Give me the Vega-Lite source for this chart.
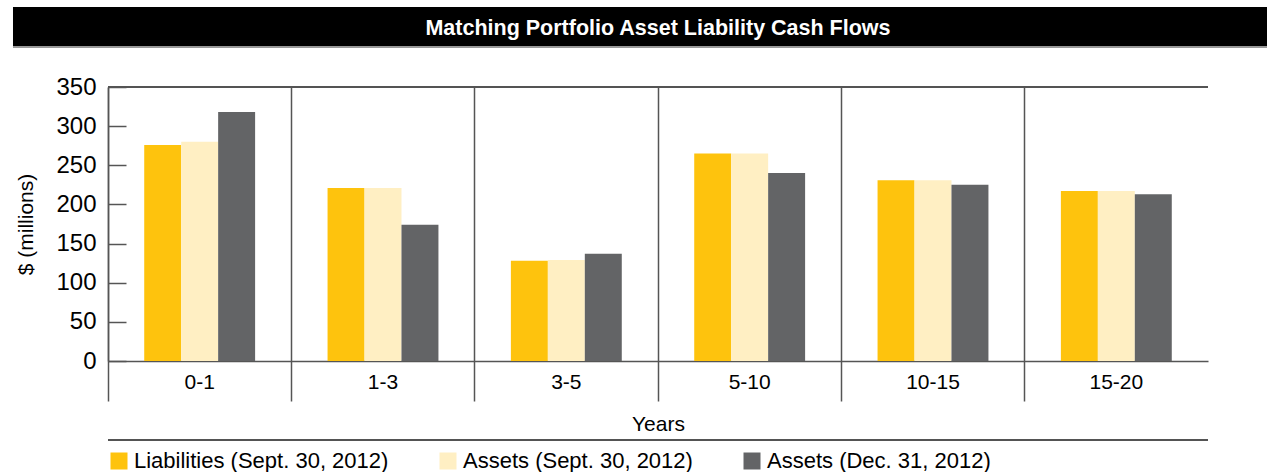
{
  "$schema": "https://vega.github.io/schema/vega-lite/v6.json",
  "padding": {"left": 11, "top": 7, "right": 0, "bottom": 0},
  "background": "white",
  "config": {"font": "Liberation Sans", "view": {"stroke": null}},
  "datasets": {
    "banner": [{"t": "Matching Portfolio Asset Liability Cash Flows"}],
    "flows": [
      {"cat": "0-1", "series": "Liabilities (Sept. 30, 2012)", "value": 276},
      {"cat": "0-1", "series": "Assets (Sept. 30, 2012)", "value": 280},
      {"cat": "0-1", "series": "Assets (Dec. 31, 2012)", "value": 318},
      {"cat": "1-3", "series": "Liabilities (Sept. 30, 2012)", "value": 221},
      {"cat": "1-3", "series": "Assets (Sept. 30, 2012)", "value": 221},
      {"cat": "1-3", "series": "Assets (Dec. 31, 2012)", "value": 174},
      {"cat": "3-5", "series": "Liabilities (Sept. 30, 2012)", "value": 128},
      {"cat": "3-5", "series": "Assets (Sept. 30, 2012)", "value": 129},
      {"cat": "3-5", "series": "Assets (Dec. 31, 2012)", "value": 137},
      {"cat": "5-10", "series": "Liabilities (Sept. 30, 2012)", "value": 265},
      {"cat": "5-10", "series": "Assets (Sept. 30, 2012)", "value": 265},
      {"cat": "5-10", "series": "Assets (Dec. 31, 2012)", "value": 240},
      {"cat": "10-15", "series": "Liabilities (Sept. 30, 2012)", "value": 231},
      {"cat": "10-15", "series": "Assets (Sept. 30, 2012)", "value": 231},
      {"cat": "10-15", "series": "Assets (Dec. 31, 2012)", "value": 225},
      {"cat": "15-20", "series": "Liabilities (Sept. 30, 2012)", "value": 217},
      {"cat": "15-20", "series": "Assets (Sept. 30, 2012)", "value": 217},
      {"cat": "15-20", "series": "Assets (Dec. 31, 2012)", "value": 213}
    ]
  },
  "columns": 1,
  "align": "none",
  "bounds": "full",
  "spacing": 27,
  "concat": [
    {
      "width": 1160,
      "height": 40,
      "data": {"name": "banner"},
      "layer": [
        {"mark": {"type": "rect", "color": "black", "clip": false},
         "encoding": {
           "x": {"datum": -0.0819, "type": "quantitative", "scale": {"domain": [0, 1], "nice": false, "zero": false}, "axis": null},
           "x2": {"datum": 1},
           "y": {"datum": 0, "type": "quantitative", "scale": {"domain": [0, 1]}, "axis": null},
           "y2": {"datum": 1}}},
        {"mark": {"type": "rule", "color": "#999999", "strokeWidth": 2, "clip": false},
         "encoding": {
           "x": {"datum": -0.0819, "type": "quantitative", "axis": null},
           "x2": {"datum": 1},
           "y": {"datum": 0, "type": "quantitative", "axis": null}}},
        {"mark": {"type": "text", "color": "white", "fontSize": 21.5, "fontWeight": "bold", "dx": -30, "dy": 2},
         "encoding": {"text": {"field": "t"}, "y": {"datum": 0.5, "type": "quantitative", "axis": null}}}
      ]
    },
    {
      "width": 1100,
      "height": 274,
      "data": {"name": "flows"},
      "layer": [
        {
          "mark": {"type": "bar"},
          "encoding": {
            "x": {"field": "cat", "type": "nominal", "sort": null,
                  "scale": {"paddingInner": 0, "paddingOuter": 0},
                  "axis": {"title": "Years", "labelAngle": 0, "bandPosition": 0,
                           "ticks": true, "tickSize": 40, "tickColor": "#555555", "tickWidth": 1.5,
                           "grid": true, "gridColor": "#555555", "gridWidth": 1.5,
                           "domain": true, "domainColor": "#555555", "domainWidth": 1.5,
                           "labelFontSize": 21, "labelColor": "#000000", "labelPadding": -30,
                           "titleFontSize": 21, "titleFontWeight": "normal", "titlePadding": 12, "titleColor": "#000000"}},
            "xOffset": {"field": "series", "type": "nominal",
                        "scale": {"domain": ["Liabilities (Sept. 30, 2012)", "Assets (Sept. 30, 2012)", "Assets (Dec. 31, 2012)"], "paddingOuter": 0.98, "paddingInner": 0}},
            "y": {"field": "value", "type": "quantitative",
                  "scale": {"domain": [0, 350], "nice": false},
                  "axis": {"title": "$ (millions)", "values": [0, 50, 100, 150, 200, 250, 300, 350], "grid": false,
                           "labelOverlap": false,
                           "domain": true, "domainColor": "#555555", "domainWidth": 1.5, "tickColor": "#555555", "tickWidth": 1.5,
                           "tickSize": -18, "labelFontSize": 24, "labelColor": "#000000", "labelPadding": 30,
                           "titleFontSize": 21, "titleFontWeight": "normal", "titleColor": "#000000", "titlePadding": 19}},
            "color": {"field": "series", "type": "nominal",
                      "scale": {"domain": ["Liabilities (Sept. 30, 2012)", "Assets (Sept. 30, 2012)", "Assets (Dec. 31, 2012)"],
                                "range": ["#FEC30D", "#FFEFC3", "#636466"]},
                      "legend": {"title": null, "orient": "bottom", "direction": "horizontal", "symbolType": "square",
                                 "symbolSize": 289, "symbolStrokeWidth": 0, "labelFontSize": 22, "labelColor": "#000000",
                                 "labelLimit": 0, "columnPadding": 48, "labelOffset": 4, "offset": 9, "padding": 0}}
          }
        },
        {
          "mark": {"type": "rule", "color": "#555555", "strokeWidth": 1.5},
          "encoding": {"y": {"datum": 350, "type": "quantitative",
                  "axis": {"title": "$ (millions)", "values": [0, 50, 100, 150, 200, 250, 300, 350], "grid": false,
                           "labelOverlap": false,
                           "domain": true, "domainColor": "#555555", "domainWidth": 1.5, "tickColor": "#555555", "tickWidth": 1.5,
                           "tickSize": -18, "labelFontSize": 24, "labelColor": "#000000", "labelPadding": 30,
                           "titleFontSize": 21, "titleFontWeight": "normal", "titleColor": "#000000", "titlePadding": 19}}}
        },
        {
          "mark": {"type": "rule", "color": "#555555", "strokeWidth": 1.5, "clip": false},
          "encoding": {"y": {"datum": -101, "type": "quantitative",
                  "axis": {"title": "$ (millions)", "values": [0, 50, 100, 150, 200, 250, 300, 350], "grid": false,
                           "labelOverlap": false,
                           "domain": true, "domainColor": "#555555", "domainWidth": 1.5, "tickColor": "#555555", "tickWidth": 1.5,
                           "tickSize": -18, "labelFontSize": 24, "labelColor": "#000000", "labelPadding": 30,
                           "titleFontSize": 21, "titleFontWeight": "normal", "titleColor": "#000000", "titlePadding": 19}}}
        }
      ]
    }
  ]
}
